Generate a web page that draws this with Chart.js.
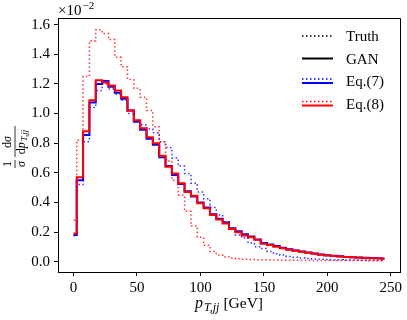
<!DOCTYPE html>
<html><head><meta charset="utf-8">
<script src="https://cdn.jsdelivr.net/npm/chart.js@4/dist/chart.umd.min.js"></script>
<style>html,body{margin:0;padding:0;background:#fff;}#wrap{width:407px;height:320px;}</style>
</head><body><div id="wrap"><canvas id="c" width="407" height="320"></canvas></div>
<script>
const FONT = '"Liberation Serif","Times New Roman",serif';

// bin centres (GeV)
const pT = [0,5,10,15,20,25,30,35,40,45,50,55,60,65,70,75,80,85,90,95,100,105,110,115,120,125,130,135,140,145,150,155,160,165,170,175,180,185,190,195,200,205,210,215,220,225,230,235,240,245];

// values in units of 1e-2
const eq7Truth = [0.175,0.52,0.81,1.04,1.155,1.20,1.165,1.13,1.09,1.00,0.955,0.925,0.895,0.87,0.81,0.77,0.70,0.645,0.595,0.53,0.47,0.425,0.365,0.315,0.27,0.225,0.18,0.16,0.125,0.10,0.088,0.068,0.053,0.045,0.035,0.03,0.025,0.021,0.018,0.016,0.014,0.013,0.012,0.011,0.011,0.010,0.010,0.009,0.009,0.009];
const eq7Gan = [0.18,0.55,0.855,1.075,1.20,1.22,1.18,1.14,1.10,1.02,0.945,0.89,0.83,0.79,0.705,0.645,0.585,0.525,0.475,0.44,0.40,0.365,0.32,0.29,0.265,0.225,0.205,0.185,0.17,0.15,0.125,0.115,0.105,0.093,0.083,0.076,0.069,0.062,0.055,0.048,0.043,0.039,0.036,0.032,0.030,0.028,0.026,0.024,0.023,0.021];
const eq8Truth = [0.28,0.82,1.25,1.49,1.565,1.54,1.50,1.38,1.315,1.23,1.17,1.11,1.02,0.91,0.81,0.68,0.55,0.45,0.34,0.24,0.165,0.11,0.068,0.045,0.032,0.024,0.019,0.016,0.014,0.013,0.012,0.011,0.011,0.010,0.010,0.009,0.009,0.009,0.008,0.008,0.008,0.008,0.007,0.007,0.007,0.007,0.007,0.006,0.006,0.006];
const eq8Gan = [0.19,0.57,0.88,1.09,1.225,1.21,1.19,1.155,1.11,1.02,0.955,0.90,0.84,0.80,0.715,0.64,0.595,0.53,0.47,0.445,0.395,0.36,0.315,0.285,0.257,0.22,0.198,0.176,0.165,0.147,0.12,0.113,0.10,0.09,0.08,0.074,0.067,0.06,0.053,0.047,0.041,0.038,0.035,0.031,0.029,0.027,0.025,0.023,0.022,0.020];

const xTicks = [0,50,100,150,200,250];
const yTicks = [0,0.2,0.4,0.6,0.8,1.0,1.2,1.4,1.6];
const legendLabels = ['Truth','GAN','Eq.(7)','Eq.(8)'];

const RED = '#ff0000', BLUE = '#0000ff';
const DOT = [1.5,2.5];
const pts = arr => arr.map((v,i)=>({x:pT[i], y:v}));

function setFont(ctx, size, italic){ ctx.font = (italic?'italic ':'') + size + 'px ' + FONT; }

const deco = {
  id:'deco',
  afterDraw(chart){
    const ctx = chart.ctx, a = chart.chartArea;
    ctx.save();
    // frame top/right
    ctx.strokeStyle = '#000'; ctx.lineWidth = 1; ctx.setLineDash([]);
    ctx.beginPath();
    ctx.moveTo(Math.round(a.left), Math.round(a.top)+0.5);
    ctx.lineTo(Math.round(a.right)+0.5, Math.round(a.top)+0.5);
    ctx.lineTo(Math.round(a.right)+0.5, Math.round(a.bottom));
    ctx.stroke();

    ctx.fillStyle = '#000';
    ctx.textBaseline = 'alphabetic'; ctx.textAlign = 'left';
    // offset text x10^-2
    setFont(ctx, 15, false);
    ctx.fillText('\u00d710', a.left, a.top - 3);
    let w = ctx.measureText('\u00d710').width;
    setFont(ctx, 11, false);
    ctx.fillText('\u22122', a.left + w + 1, a.top - 9);

    // x-axis label
    const parts = [
      {t:'p', s:16, i:true, dy:0, gap:1},
      {t:'T,jj', s:12, i:true, dy:3, gap:4},
      {t:'[GeV]', s:15.5, i:false, dy:0, gap:0}
    ];
    let tot = 0;
    parts.forEach(p=>{ setFont(ctx,p.s,p.i); p.w = ctx.measureText(p.t).width; tot += p.w + p.gap; });
    let x = (a.left + a.right)/2 - tot/2;
    const by = 308;
    parts.forEach(p=>{ setFont(ctx,p.s,p.i); ctx.fillText(p.t, x, by + p.dy); x += p.w + p.gap; });

    // y-axis label (rotated fraction)
    ctx.save();
    ctx.translate(15, (a.top + a.bottom)/2 + 2);
    ctx.rotate(-Math.PI/2);
    ctx.lineWidth = 0.8;
    // 1/sigma
    ctx.textAlign = 'center';
    setFont(ctx, 12, false); ctx.fillText('1', -17, -4);
    setFont(ctx, 12, true); ctx.fillText('\u03c3', -17, 10);
    ctx.beginPath(); ctx.moveTo(-21, 0); ctx.lineTo(-13, 0); ctx.stroke();
    // d sigma / d p_T,jj
    ctx.textAlign = 'left';
    setFont(ctx, 12, false); let dw = ctx.measureText('d').width;
    setFont(ctx, 12, true); let sw = ctx.measureText('\u03c3').width;
    let nStart = 5 - (dw + sw)/2;
    setFont(ctx, 12, false); ctx.fillText('d', nStart, -4);
    setFont(ctx, 12, true); ctx.fillText('\u03c3', nStart + dw, -4);
    setFont(ctx, 12, true); let pw = ctx.measureText('p').width;
    setFont(ctx, 9, true); let subw = ctx.measureText('T,jj').width;
    let dStart = 5 - (dw + pw + subw + 1)/2;
    setFont(ctx, 12, false); ctx.fillText('d', dStart, 10);
    setFont(ctx, 12, true); ctx.fillText('p', dStart + dw, 10);
    setFont(ctx, 9, true); ctx.fillText('T,jj', dStart + dw + pw + 1, 12);
    ctx.beginPath(); ctx.moveTo(-10, 0); ctx.lineTo(21, 0); ctx.stroke();
    ctx.restore();

    // legend
    const lx0 = a.right - 98, lx1 = a.right - 67, tx = a.right - 54;
    const seg = (y, color, dash, width) => {
      ctx.beginPath(); ctx.setLineDash(dash); ctx.lineWidth = width; ctx.strokeStyle = color;
      ctx.moveTo(lx0, y); ctx.lineTo(lx1, y); ctx.stroke();
    };
    const rows = [
      [['#000', DOT, 1.5, 0]],
      [['#000', [], 2, 0]],
      [[BLUE, DOT, 1.5, -2], [BLUE, [], 2, 2]],
      [[RED, DOT, 1.5, -2], [RED, [], 2, 2]]
    ];
    setFont(ctx, 15, false); ctx.fillStyle = '#000'; ctx.textBaseline = 'middle'; ctx.textAlign = 'left';
    legendLabels.forEach((lab, i) => {
      const y = a.top + 18 + i*22.5;
      rows[i].forEach(r => seg(y + r[3], r[0], r[1], r[2]));
      ctx.setLineDash([]);
      ctx.fillText(lab, tx, y + 1.5);
    });
    ctx.restore();
  }
};

new Chart(document.getElementById('c'), {
  type: 'line',
  data: {
    datasets: [
      {label:'Eq.(8) GAN', data: pts(eq8Gan), borderColor: RED, borderWidth: 2, stepped: 'middle', pointRadius: 0, order: 0},
      {label:'Eq.(8) Truth', data: pts(eq8Truth), borderColor: 'rgba(255,0,0,0.8)', borderWidth: 1.5, borderDash: DOT, stepped: 'middle', pointRadius: 0, order: 1},
      {label:'Eq.(7) GAN', data: pts(eq7Gan), borderColor: BLUE, borderWidth: 2, stepped: 'middle', pointRadius: 0, order: 2},
      {label:'Eq.(7) Truth', data: pts(eq7Truth), borderColor: 'rgba(0,0,255,0.8)', borderWidth: 1.5, borderDash: DOT, stepped: 'middle', pointRadius: 0, order: 3}
    ]
  },
  options: {
    responsive: false, animation: false, devicePixelRatio: 1,
    layout: {padding: {top: 18, right: 7, left: 0, bottom: 0}},
    plugins: {legend: {display: false}, tooltip: {enabled: false}},
    scales: {
      x: {
        type: 'linear', min: -12.25, max: 257.25,
        afterBuildTicks: s => { s.ticks = xTicks.map(v => ({value: v})); },
        afterFit: s => { s.height = 48; },
        grid: {drawOnChartArea: false, drawTicks: true, tickLength: 4, color: '#000'},
        border: {display: true, color: '#000', width: 1},
        ticks: {color: '#000', font: {family: FONT, size: 15}, padding: 3, maxRotation: 0, callback: v => String(v)}
      },
      y: {
        type: 'linear', min: -0.07, max: 1.645,
        afterBuildTicks: s => { s.ticks = yTicks.map(v => ({value: v})); },
        afterFit: s => { s.width = 58; },
        grid: {drawOnChartArea: false, drawTicks: true, tickLength: 4, color: '#000'},
        border: {display: true, color: '#000', width: 1},
        ticks: {color: '#000', font: {family: FONT, size: 15}, padding: 4, callback: v => v.toFixed(1)}
      }
    }
  },
  plugins: [deco]
});
</script>
</body></html>
